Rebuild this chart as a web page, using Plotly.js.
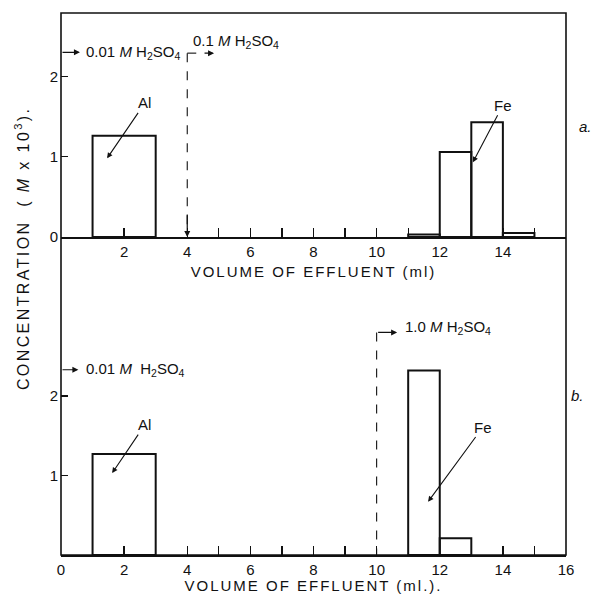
<!DOCTYPE html>
<html>
<head>
<meta charset="utf-8">
<script src="https://cdn.plot.ly/plotly-3.0.1.min.js"></script>
<style>
html,body{margin:0;padding:0;background:#fff;}
#chart{width:594px;height:594px;}
.xtitle,.x2title{letter-spacing:2px;}
.annotation[data-index="15"] text{letter-spacing:2.4px;}
</style>
</head>
<body>
<div id="chart"></div>
<script>
// ---- Data ----
// Panel a
const alStartA = [1];
const alEndA   = [3];
const alConcA  = [1.26];
const feStartA = [11, 12, 13, 14];
const feEndA   = [12, 13, 14, 15];
const feConcA  = [0.03, 1.06, 1.43, 0.05];
// Panel b
const alStartB = [1];
const alEndB   = [3];
const alConcB  = [1.27];
const feStartB = [11, 12];
const feEndB   = [12, 13];
const feConcB  = [2.32, 0.21];
// Eluent switch volumes (ml)
const switchVolA = 4;
const switchVolB = 10;
// Ticks
const xMinorTicks = [1,2,3,4,5,6,7,8,9,10,11,12,13,14,15];
const xLabelsA = ['', '2', '', '4', '', '6', '', '8', '', '10', '', '12', '', '14', ''];
const xTicksB = [0,1,2,3,4,5,6,7,8,9,10,11,12,13,14,15,16];
const xLabelsB = ['0','', '2', '', '4', '', '6', '', '8', '', '10', '', '12', '', '14', '', '16'];
const yTicksA = [0, 1, 2];
const yTicksB = [1, 2];

const FONT = 'Liberation Sans, Arial, sans-serif';
const INK = '#111';

function binTrace(starts, ends, conc, xa, ya, name) {
  return {
    type: 'bar',
    name: name,
    x: starts.map((s, i) => (s + ends[i]) / 2),
    width: starts.map((s, i) => ends[i] - s),
    y: conc,
    xaxis: xa, yaxis: ya,
    marker: {color: 'rgba(255,255,255,0)', line: {color: INK, width: 2}},
    showlegend: false,
    hoverinfo: 'x+y'
  };
}

const traces = [
  binTrace(alStartA, alEndA, alConcA, 'x', 'y', 'Al (a)'),
  binTrace(feStartA, feEndA, feConcA, 'x', 'y', 'Fe (a)'),
  binTrace(alStartB, alEndB, alConcB, 'x2', 'y2', 'Al (b)'),
  binTrace(feStartB, feEndB, feConcB, 'x2', 'y2', 'Fe (b)')
];

const split = 0.5867;
const tickFont = {family: FONT, size: 15, color: INK};

const xCommon = {
  range: [0, 16], showgrid: false, zeroline: false,
  ticks: 'inside', ticklen: 9, tickwidth: 1.3, tickcolor: INK,
  showline: true, linecolor: INK, linewidth: 1.8,
  tickmode: 'array', tickfont: tickFont, fixedrange: true
};
const yCommon = {
  showgrid: false, zeroline: false,
  ticks: 'inside', ticklen: 7, tickwidth: 1.3, tickcolor: INK,
  showline: false, tickmode: 'array', tickfont: tickFont, fixedrange: true,
  ticklabelstandoff: 2
};

const annFont = {family: FONT, size: 15, color: INK};
const spFont = {family: FONT, size: 15, color: INK};

function arrow(x, y, ax, ay, xr, yr, extra) {
  return Object.assign({
    x: x, y: y, ax: ax, ay: ay, xref: xr, yref: yr, axref: xr, ayref: yr,
    text: '', showarrow: true, arrowhead: 2, arrowsize: 1, arrowwidth: 1.2,
    arrowcolor: INK, standoff: 0, startstandoff: 0
  }, extra || {});
}
function label(text, x, y, ax, ay, xr, yr) {
  return {
    x: x, y: y, ax: ax, ay: ay, xref: xr, yref: yr, axref: xr, ayref: yr,
    text: text, showarrow: true, arrowhead: 2, arrowsize: 1, arrowwidth: 1.1,
    arrowcolor: INK, font: spFont
  };
}

const acid = (conc) => conc + ' <i>M</i> H<sub>2</sub>SO<sub>4</sub>';

const annotations = [
  // Panel a eluent notes
  arrow(0.6, 2.30, 0, 2.30, 'x', 'y'),
  {x: 0.74, y: 2.30, xref: 'x', yref: 'y', xanchor: 'left', yanchor: 'middle',
   text: acid('0.01'), showarrow: false, font: annFont},
  arrow(switchVolA, 0.0, switchVolA, 0.3, 'x', 'y'),
  arrow(switchVolA + 0.85, 2.29, switchVolA + 0.5, 2.29, 'x', 'y'),
  {x: switchVolA + 0.12, y: 2.43, xref: 'x', yref: 'y', xanchor: 'left', yanchor: 'middle',
   text: acid('0.1'), showarrow: false, font: annFont},
  // Panel a species labels
  label('Al', 1.46, 0.98, 2.66, 1.67, 'x', 'y'),
  label('Fe', 13.05, 0.93, 14.0, 1.64, 'x', 'y'),
  {x: 1.038, y: 0.79, xref: 'paper', yref: 'paper', xanchor: 'center', yanchor: 'middle',
   text: '<i>a.</i>', showarrow: false, font: {family: FONT, size: 15, color: INK}},
  // Panel b eluent notes
  arrow(0.55, 2.33, 0, 2.33, 'x2', 'y2'),
  {x: 0.74, y: 2.33, xref: 'x2', yref: 'y2', xanchor: 'left', yanchor: 'middle',
   text: '0.01 <i>M</i>  H<sub>2</sub>SO<sub>4</sub>', showarrow: false, font: annFont},
  arrow(switchVolB + 0.65, 2.80, switchVolB, 2.80, 'x2', 'y2'),
  {x: switchVolB + 0.82, y: 2.86, xref: 'x2', yref: 'y2', xanchor: 'left', yanchor: 'middle',
   text: acid('1.0'), showarrow: false, font: annFont},
  // Panel b species labels
  label('Al', 1.62, 1.03, 2.66, 1.64, 'x2', 'y2'),
  label('Fe', 11.63, 0.67, 13.37, 1.61, 'x2', 'y2'),
  {x: 1.022, y: 0.295, xref: 'paper', yref: 'paper', xanchor: 'center', yanchor: 'middle',
   text: '<i>b.</i>', showarrow: false, font: {family: FONT, size: 15, color: INK}},
  // Shared y title (index 15)
  {x: -0.077, y: 0.565, xref: 'paper', yref: 'paper', textangle: -90,
   xanchor: 'center', yanchor: 'middle',
   text: 'CONCENTRATION  ( <i>M</i> x 10<sup>3</sup>).', showarrow: false,
   font: {family: FONT, size: 16, color: INK}}
];

const shapes = [
  {type: 'rect', xref: 'paper', yref: 'paper', x0: 0, x1: 1, y0: 0, y1: 1,
   line: {color: INK, width: 1.6}},
  {type: 'line', xref: 'x', yref: 'y', x0: switchVolA, x1: switchVolA, y0: 2.29, y1: 0.05,
   line: {color: INK, width: 1.1, dash: 'dash'}},
  {type: 'line', xref: 'x', yref: 'y', x0: switchVolA, x1: switchVolA + 0.55, y0: 2.29, y1: 2.29,
   line: {color: INK, width: 1.1, dash: 'dash'}},
  {type: 'line', xref: 'x2', yref: 'y2', x0: switchVolB, x1: switchVolB, y0: 2.80, y1: 0,
   line: {color: INK, width: 1.1, dash: 'dash'}}
];

const layout = {
  width: 594, height: 594,
  margin: {l: 61, r: 28, t: 13, b: 39},
  paper_bgcolor: '#fff', plot_bgcolor: '#fff',
  font: {family: FONT, color: INK},
  showlegend: false,
  bargap: 0,
  xaxis: Object.assign({}, xCommon, {
    anchor: 'y', domain: [0, 1], tickvals: xMinorTicks, ticktext: xLabelsA,
    title: {text: 'VOLUME OF EFFLUENT (ml)', font: {family: FONT, size: 15, color: INK}, standoff: 8}
  }),
  yaxis: Object.assign({}, yCommon, {
    anchor: 'x', domain: [split, 1], range: [0, 2.79],
    tickvals: yTicksA, ticktext: yTicksA.map(String)
  }),
  xaxis2: Object.assign({}, xCommon, {
    anchor: 'y2', domain: [0, 1], tickvals: xTicksB, ticktext: xLabelsB,
    title: {text: 'VOLUME OF EFFLUENT (ml.).', font: {family: FONT, size: 15, color: INK}, standoff: 6}
  }),
  yaxis2: Object.assign({}, yCommon, {
    anchor: 'x2', domain: [0, split], range: [0, 4.0],
    tickvals: yTicksB, ticktext: yTicksB.map(String)
  }),
  annotations: annotations,
  shapes: shapes
};

Plotly.newPlot('chart', traces, layout, {displayModeBar: false, staticPlot: true});
</script>
</body>
</html>
